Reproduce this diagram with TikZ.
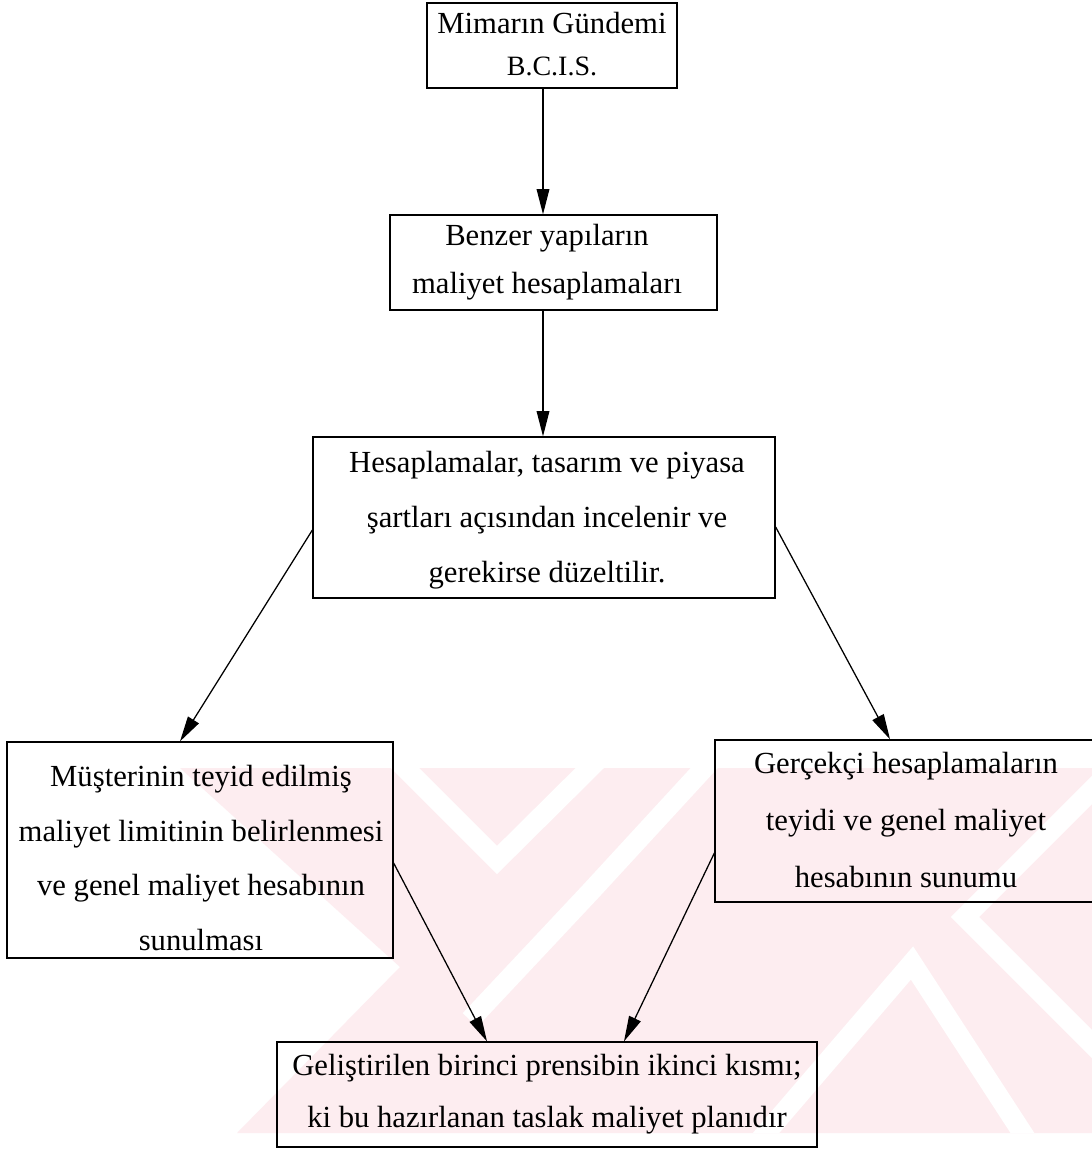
\documentclass[tikz,border=0pt]{standalone}
\usepackage{fontspec}
\setmainfont{Liberation Serif}
\usetikzlibrary{arrows.meta}
\definecolor{wmpink}{RGB}{253,237,240}
\begin{document}
\begin{tikzpicture}[x=0.75pt,y=-0.75pt,
  stepbox/.style={draw=black, line width=0.95pt, inner sep=0pt, rectangle},
  boxtext/.style={align=center, inner sep=0pt, text=black},
  arr/.style={draw=black, line width=0.95pt, -{Triangle[length=19pt,width=9.5pt]}},
  band/.style={draw=white, line width=15pt, line join=miter}]
\useasboundingbox (0,0) rectangle (1092,1150);
\fill[white] (0,0) rectangle (1092,1150);

% faint background mark
\begin{scope}
  \clip (180,768) -- (1092,768) -- (1092,1133) -- (237,1133) -- (400,967) -- cycle;
  \fill[wmpink] (0,0) rectangle (1092,1150);
  \draw[band] (380,743) -- (497,860) -- (615,743);
  \draw[band] (730,740) -- (592,890) -- (470,1020);
  \draw[band] (1140,742) -- (965,917) -- (1140,1092);
  \draw[band] (760,1140) -- (912,963) -- (1040,1160);
\end{scope}

% boxes
\node[stepbox, minimum width=187.5pt, minimum height=63.75pt] (b1) at (552,45.5) {};
\node[stepbox, minimum width=245.25pt, minimum height=71.25pt] (b2) at (553.5,262.5) {};
\node[stepbox, minimum width=346.5pt, minimum height=120.75pt] (b3) at (544,517.5) {};
\node[stepbox, minimum width=289.5pt, minimum height=162pt] (b4) at (200,850) {};
\node[stepbox, minimum width=285.75pt, minimum height=121.5pt] (b5) at (905.5,821) {};
\node[stepbox, minimum width=405pt, minimum height=78.75pt] (b6) at (547,1094.5) {};

% texts
\node[boxtext, font=\fontsize{23pt}{31.5pt}\selectfont] (t1) at (552,44)
  {Mimarın Gündemi\\{\fontsize{21pt}{24pt}\selectfont B.C.I.S.}};
\node[boxtext, font=\fontsize{23pt}{36pt}\selectfont] (t2) at (547,262)
  {Benzer yapıların\\maliyet hesaplamaları};
\node[boxtext, font=\fontsize{23pt}{41pt}\selectfont] (t3) at (547,520)
  {Hesaplamalar, tasarım ve piyasa\\şartları açısından incelenir ve\\gerekirse düzeltilir.};
\node[boxtext, font=\fontsize{23pt}{41pt}\selectfont] (t4) at (201,858)
  {Müşterinin teyid edilmiş\\maliyet limitinin belirlenmesi\\ve genel maliyet hesabının\\sunulması};
\node[boxtext, font=\fontsize{23pt}{42.5pt}\selectfont] (t5) at (906,820)
  {Gerçekçi hesaplamaların\\teyidi ve genel maliyet\\hesabının sunumu};
\node[boxtext, font=\fontsize{23pt}{39pt}\selectfont] (t6) at (547,1094)
  {Geliştirilen birinci prensibin ikinci kısmı;\\ki bu hazırlanan taslak maliyet planıdır};

% connectors
\draw[arr] ([xshift=-6.75pt]b1.south) -- ([xshift=-7.875pt]b2.north);
\draw[arr] ([xshift=-7.875pt]b2.south) -- ([xshift=-0.75pt]b3.north);
\draw[arr] ([yshift=-9.4pt]b3.west) -- ([xshift=-15pt]b4.north);
\draw[arr] ([yshift=-7.1pt]b3.east) -- ([xshift=-11.6pt]b5.north);
\draw[arr] ([yshift=-9.75pt]b4.east) -- ([xshift=-45pt]b6.north);
\draw[arr] ([yshift=-24pt]b5.west) -- ([xshift=57.75pt]b6.north);
\end{tikzpicture}
\end{document}
